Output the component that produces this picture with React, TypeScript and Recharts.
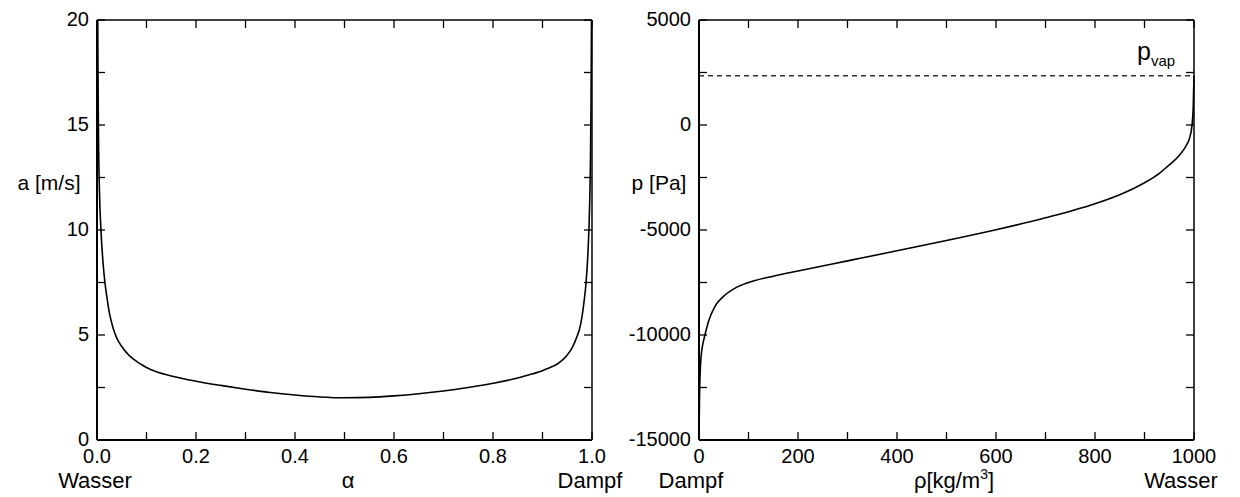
import { Line, LineChart, ReferenceLine, XAxis, YAxis } from 'recharts';

// left panel: speed of sound a over void fraction alpha
const alphaValues = [
  0.0015, 0.002, 0.003, 0.005, 0.008, 0.012, 0.016, 0.02, 0.025, 0.03, 0.035, 0.04, 0.05, 0.06, 0.07, 0.08, 0.09,
  0.1, 0.12, 0.15, 0.2, 0.25, 0.3, 0.35, 0.4, 0.45, 0.5, 0.55, 0.6, 0.65, 0.7, 0.75, 0.8, 0.85, 0.88, 0.9, 0.91,
  0.92, 0.93, 0.94, 0.95, 0.96, 0.965, 0.97, 0.975, 0.98, 0.984, 0.988, 0.992, 0.995, 0.997, 0.998, 0.999,
];
const speedValues = [
  20, 17.5, 14.5, 11.8, 10, 8.5, 7.5, 6.8, 6.05, 5.55, 5.15, 4.85, 4.45, 4.15, 3.92, 3.74, 3.59,
  3.45, 3.25, 3.05, 2.8, 2.6, 2.42, 2.26, 2.14, 2.05, 2.01, 2.03, 2.1, 2.2, 2.33, 2.5, 2.7, 2.95, 3.15, 3.3, 3.4,
  3.5, 3.62, 3.8, 4.05, 4.4, 4.65, 4.95, 5.3, 5.9, 6.6, 7.5, 9, 11, 13.5, 16, 20,
];
const alphaTicks = [0, 0.1, 0.2, 0.3, 0.4, 0.5, 0.6, 0.7, 0.8, 0.9, 1];
const speedTicks = [0, 2.5, 5, 7.5, 10, 12.5, 15, 17.5, 20];

// right panel: pressure p over density rho
const rhoValues = [
  0.5, 1, 2, 4, 8, 12, 20, 32, 50, 73, 100, 154, 200, 300, 400, 500, 600, 700, 800, 850, 900, 930, 950, 960, 970,
  980, 985, 990, 993, 995, 997, 998.5, 1000,
];
const pressureValues = [
  -14000, -13000, -12000, -11100, -10400, -10000, -9300, -8650, -8150, -7770, -7500, -7180, -6950, -6470, -5990,
  -5500, -4990, -4420, -3750, -3320, -2750, -2300, -1900, -1700, -1450, -1150, -950, -700, -450, -200, 250, 900,
  2340,
];
const rhoTicks = [0, 100, 200, 300, 400, 500, 600, 700, 800, 900, 1000];
const pressureTicks = [-15000, -12500, -10000, -7500, -5000, -2500, 0, 2500, 5000];
const P_VAP = 2340;

const speedData = alphaValues.map((alpha, i) => ({ alpha, a: speedValues[i] }));
const pressureData = rhoValues.map((rho, i) => ({ rho, p: pressureValues[i] }));

const FONT = '"Liberation Sans", Arial, sans-serif';
const TICK_LEN = 8;
const CHART_W = 620;
const CHART_H = 497;
const PLOT_TOP = 20; // margin.top + 1px top axis

// ticks point inward and are repeated on the opposite edge of the frame;
// only major ones get a label
function makeTick(side: 'left' | 'bottom', opposite: number, label: (v: number) => string | null) {
  return function Tick(props: any) {
    const { x, y, payload } = props;
    const text = label(payload?.value as number);
    if (side === 'left') {
      return (
        <g>
          <line x1={x} y1={y} x2={x + TICK_LEN} y2={y} stroke="#000" strokeWidth={1.3} />
          <line x1={opposite} y1={y} x2={opposite - TICK_LEN} y2={y} stroke="#000" strokeWidth={1.3} />
          {text !== null && (
            <text x={x - 8} y={y - 1} dy="0.35em" textAnchor="end" fontSize={20} fontFamily={FONT} fill="#000">
              {text}
            </text>
          )}
        </g>
      );
    }
    return (
      <g>
        <line x1={x} y1={y} x2={x} y2={y - TICK_LEN} stroke="#000" strokeWidth={1.3} />
        <line x1={x} y1={opposite} x2={x} y2={opposite + TICK_LEN} stroke="#000" strokeWidth={1.3} />
        {text !== null && (
          <text x={x} y={y + 16} dy="0.35em" textAnchor="middle" fontSize={20} fontFamily={FONT} fill="#000">
            {text}
          </text>
        )}
      </g>
    );
  };
}

const alphaLabel = (v: number) => (Math.round(v * 10) % 2 === 0 ? v.toFixed(1) : null);
const speedLabel = (v: number) => (v % 5 === 0 ? String(v) : null);
const rhoLabel = (v: number) => (v % 200 === 0 ? String(v) : null);
const pressureLabel = (v: number) => (v % 5000 === 0 ? String(v) : null);

const axisLine = { stroke: '#000', strokeWidth: 2 };
const frameLine = { stroke: '#000', strokeWidth: 1.5 };

const SPEED_MARGIN = { top: 19, right: 27, bottom: 56, left: 0 };
const PRESSURE_MARGIN = { top: 19, right: 45, bottom: 56, left: 0 };

function SpeedChart() {
  const plotRight = CHART_W - SPEED_MARGIN.right - 1;
  return (
    <LineChart width={CHART_W} height={CHART_H} data={speedData} margin={SPEED_MARGIN}>
      <XAxis dataKey="alpha" type="number" domain={[0, 1]} ticks={alphaTicks} interval={0} height={1}
        tickSize={0} tickMargin={0} tickLine={false} axisLine={axisLine}
        tick={makeTick('bottom', PLOT_TOP, alphaLabel)} />
      <XAxis xAxisId="top" dataKey="alpha" orientation="top" type="number" domain={[0, 1]} height={1}
        tick={false} tickLine={false} axisLine={frameLine} />
      <YAxis type="number" domain={[0, 20]} ticks={speedTicks} interval={0} width={97}
        tickSize={0} tickMargin={0} tickLine={false} axisLine={axisLine}
        tick={makeTick('left', plotRight, speedLabel)} />
      <YAxis yAxisId="right" orientation="right" type="number" domain={[0, 20]} width={1}
        tick={false} tickLine={false} axisLine={frameLine} />
      <Line dataKey="a" type="monotone" stroke="#000" strokeWidth={1.6} dot={false} activeDot={false}
        isAnimationActive={false} />
    </LineChart>
  );
}

function PressureChart() {
  const plotRight = CHART_W - PRESSURE_MARGIN.right - 1;
  return (
    <LineChart width={CHART_W} height={CHART_H} data={pressureData} margin={PRESSURE_MARGIN}>
      <XAxis dataKey="rho" type="number" domain={[0, 1000]} ticks={rhoTicks} interval={0} height={1}
        tickSize={0} tickMargin={0} tickLine={false} axisLine={axisLine}
        tick={makeTick('bottom', PLOT_TOP, rhoLabel)} />
      <XAxis xAxisId="top" dataKey="rho" orientation="top" type="number" domain={[0, 1000]} height={1}
        tick={false} tickLine={false} axisLine={frameLine} />
      <YAxis type="number" domain={[-15000, 5000]} allowDataOverflow ticks={pressureTicks} interval={0} width={79}
        tickSize={0} tickMargin={0} tickLine={false} axisLine={axisLine}
        tick={makeTick('left', plotRight, pressureLabel)} />
      <YAxis yAxisId="right" orientation="right" type="number" domain={[-15000, 5000]} width={1}
        tick={false} tickLine={false} axisLine={frameLine} />
      <ReferenceLine y={P_VAP} stroke="#333" strokeWidth={1.5} strokeDasharray="5 4" />
      <Line dataKey="p" type="monotone" stroke="#000" strokeWidth={1.6} dot={false} activeDot={false}
        isAnimationActive={false} />
    </LineChart>
  );
}

export default function App() {
  return (
    <div style={{ position: 'absolute', left: 0, top: 0, width: 1240, height: 497, background: '#fff' }}>
      <div style={{ position: 'absolute', left: 0, top: 0 }}>
        <SpeedChart />
      </div>
      <div style={{ position: 'absolute', left: 620, top: 0 }}>
        <PressureChart />
      </div>
      <svg width={1240} height={497} style={{ position: 'absolute', left: 0, top: 0, pointerEvents: 'none' }}
        fontFamily={FONT} fill="#000">
        <text x={49} y={190} fontSize={21} textAnchor="middle">a [m/s]</text>
        <text x={95} y={488} fontSize={22} textAnchor="middle">Wasser</text>
        <text x={348} y={488} fontSize={22} textAnchor="middle">α</text>
        <text x={590} y={488} fontSize={22} textAnchor="middle">Dampf</text>
        <text x={659} y={190} fontSize={21} textAnchor="middle">p [Pa]</text>
        <text x={691} y={488} fontSize={22} textAnchor="middle">Dampf</text>
        <text x={954} y={488} fontSize={22} textAnchor="middle">
          ρ[kg/m<tspan fontSize={14} dy={-9}>3</tspan><tspan dy={9}>]</tspan>
        </text>
        <text x={1181} y={488} fontSize={22} textAnchor="middle">Wasser</text>
        <text x={1137} y={60} fontSize={25}>
          p<tspan fontSize={15} dy={6}>vap</tspan>
        </text>
      </svg>
    </div>
  );
}
